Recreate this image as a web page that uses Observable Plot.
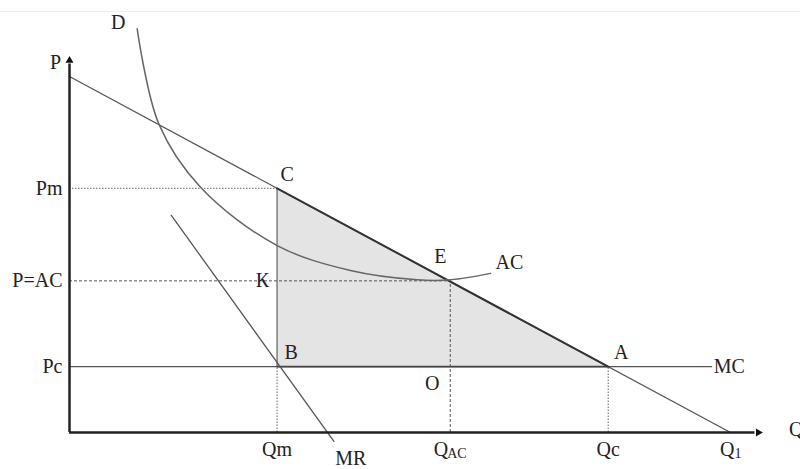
<!DOCTYPE html>
<html><head><meta charset="utf-8">
<script src="https://cdn.jsdelivr.net/npm/d3@7"></script>
<script src="https://cdn.jsdelivr.net/npm/@observablehq/plot@0.6"></script>
<style>body{margin:0;background:#fff}</style>
</head><body><div id="chart"></div>
<script>
// Economic values (Q horizontal, P vertical)
const demandQ = [0, 100];
const demandP = [100, 0];
const mrQ = [15.4, 40];
const mrP = [61, -2.5];
const acQ = [10.24, 13.51, 19.82, 31.42, 42.51, 52.6, 57.64, 63.7];
const acP = [113.4, 86.7, 68.9, 52.5, 45.5, 42.9, 42.9, 44.7];
const qNames = ["Qm", "Q", "Qc", "Q"];
const qSubs = ["", "AC", "", "1"];
const qValues = [31.4, 57.6, 81.5, 100];
const pNames = ["Pm", "P=AC", "Pc"];
const pValues = [68.6, 42.6, 18.5];
const mcEnd = 97.3;
const axisTopP = 104.5;
const axisEndQ = 104.2;

const [Qm, Qac, Qc, Q1] = qValues;
const [Pm, Pac, Pc] = pValues;

const demand = demandQ.map((q, i) => ({q, p: demandP[i]}));
const mr = mrQ.map((q, i) => ({q, p: mrP[i]}));
const ac = acQ.map((q, i) => ({q, p: acP[i]}));
const shade = [{q: Qm, lo: Pc, hi: Pm}, {q: Qc, lo: Pc, hi: Pc}];

const font = "Liberation Serif, Times New Roman, serif";
const ink = "#222";

function lbl(t, q, p, dx, dy, opts = {}) {
  return Plot.text([{q, p, t}], {x: "q", y: "p", text: "t", dx, dy, fontSize: 20, fill: ink, ...opts});
}

const W = 800, H = 469;
// pixel mapping: Q=0 at x=69, Q=100 at x=730; P=0 at y=432, P=100 at y=76
const kx = 6.61, ky = 3.56;
const xDom = [-69 / kx, (W - 69) / kx];
const yDom = [(432 - H) / ky, 432 / ky];

const labelMarks = [
  lbl("C", Qm, Pm, 10, -14),
  lbl("К", Qm, Pac, -8, 0, {textAnchor: "end"}),
  lbl("B", Qm, Pc, 14, -14),
  lbl("E", Qac, Pac, -10, -24),
  lbl("AC", acQ[acQ.length - 1], acP[acP.length - 1], 5, -11, {textAnchor: "start"}),
  lbl("O", Qac, Pc, -18, 17),
  lbl("A", Qc, Pc, 13, -14),
  lbl("MC", mcEnd, Pc, 1, 0, {textAnchor: "start"}),
  lbl("D", acQ[0], acP[0], -19, -6),
  lbl("MR", mrQ[1], mrP[1], 17, 17),
  lbl("P", 0, axisTopP, -14, 2),
  lbl("Q", axisEndQ, 0, 38, -3),
  ...pNames.map((t, i) => lbl(t, 0, pValues[i], -7, 0, {textAnchor: "end"})),
  ...qNames.map((t, i) => qSubs[i]
    ? lbl(t, qValues[i], 0, qSubs[i] === "AC" ? -2 : 4, 17, {textAnchor: "end"})
    : lbl(t, qValues[i], 0, 0, 17)),
  ...qSubs.map((s, i) => s ? lbl(s, qValues[i], 0, s === "AC" ? -3 : 4, 21, {textAnchor: "start", fontSize: 14}) : null).filter(Boolean)
];

const chart = Plot.plot({
  width: W, height: H,
  margin: 0,
  x: {domain: xDom, range: [0, W], axis: null},
  y: {domain: yDom, range: [H, 0], axis: null},
  style: {fontFamily: font, background: "#fff", overflow: "visible"},
  marks: [
    Plot.ruleY([(432 - 11) / ky], {stroke: "#eee", strokeWidth: 1}),
    Plot.areaY(shade, {x: "q", y1: "lo", y2: "hi", fill: "#e4e4e4"}),
    // dotted/dashed guides
    Plot.ruleY([Pm], {x1: 0, x2: Qm, stroke: "#666", strokeDasharray: "1.5,1.5", strokeWidth: 1}),
    Plot.ruleY([Pac], {x1: 0, x2: Qac, stroke: "#555", strokeDasharray: "3,2", strokeWidth: 1}),
    Plot.ruleX([Qm], {y1: 0, y2: Pc, stroke: "#666", strokeDasharray: "1.5,1.5", strokeWidth: 1}),
    Plot.ruleX([Qm], {y1: Pc, y2: Pm, stroke: "#666", strokeWidth: 1.2}),
    Plot.ruleX([Qac], {y1: 0, y2: Pac, stroke: "#555", strokeDasharray: "3,2", strokeWidth: 1}),
    Plot.ruleX([Qc], {y1: 0, y2: Pc, stroke: "#666", strokeDasharray: "1.5,1.5", strokeWidth: 1}),
    // MC
    Plot.ruleY([Pc], {x1: 0, x2: mcEnd, stroke: "#555", strokeWidth: 1.3}),
    Plot.ruleY([Pc], {x1: Qm, x2: Qc, stroke: "#444", strokeWidth: 1.6}),
    // demand
    Plot.line(demand, {x: "q", y: "p", stroke: "#555", strokeWidth: 1.3}),
    Plot.line([{q: Qm, p: 100 - Qm}, {q: Qc, p: 100 - Qc}], {x: "q", y: "p", stroke: "#333", strokeWidth: 2}),
    // MR
    Plot.line(mr, {x: "q", y: "p", stroke: "#555", strokeWidth: 1.3}),
    // AC
    Plot.line(ac, {x: "q", y: "p", curve: "catmull-rom", stroke: "#666", strokeWidth: 1.5}),
    // axes
    Plot.ruleX([0], {y1: 0, y2: axisTopP - 1, stroke: ink, strokeWidth: 2.5}),
    Plot.ruleY([0], {x1: 0, x2: axisEndQ - 0.5, stroke: ink, strokeWidth: 2.5}),
    Plot.dot([{q: 0, p: axisTopP}], {x: "q", y: "p", symbol: "triangle2", r: 3.8, fill: "#111", stroke: "none"}),
    Plot.dot([{q: axisEndQ, p: 0}], {x: "q", y: "p", symbol: "triangle2", r: 3.8, fill: "#111", stroke: "none", rotate: 90}),
    ...labelMarks
  ]
});
document.getElementById("chart").append(chart);
</script>
</body></html>
